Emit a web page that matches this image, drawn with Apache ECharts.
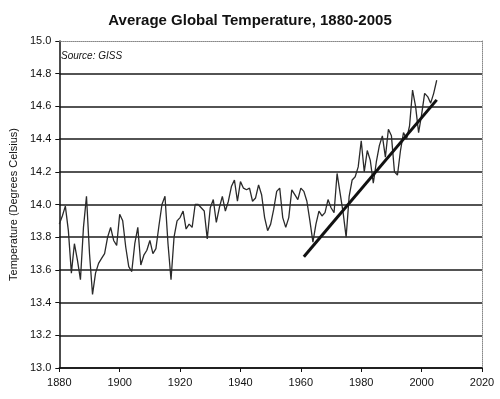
<!DOCTYPE html>
<html>
<head>
<meta charset="utf-8">
<script src="https://cdn.jsdelivr.net/npm/echarts@6/dist/echarts.min.js"></script>
<style>
html,body{margin:0;padding:0;background:#fff;}
#chart{width:500px;height:399px;}
</style>
</head>
<body>
<div id="chart"></div>
<script>
const titleText = 'Average Global Temperature, 1880-2005';
const sourceText = 'Source: GISS';
const yAxisTitle = 'Temperature (Degrees Celsius)';
const startYear = 1880;
const temps = [
  13.88, 13.93, 13.99, 13.84, 13.58, 13.76, 13.66, 13.54, 13.86, 14.05,
  13.70, 13.45, 13.58, 13.64, 13.67, 13.70, 13.80, 13.86, 13.78, 13.75,
  13.94, 13.90, 13.74, 13.62, 13.59, 13.76, 13.86, 13.63, 13.69, 13.72,
  13.78, 13.70, 13.73, 13.87, 14.00, 14.05, 13.76, 13.54, 13.80, 13.90,
  13.92, 13.96, 13.85, 13.88, 13.86, 14.00, 14.00, 13.98, 13.96, 13.79,
  13.98, 14.03, 13.89, 13.98, 14.05, 13.96, 14.02, 14.11, 14.15, 14.02,
  14.14, 14.10, 14.09, 14.10, 14.02, 14.04, 14.12, 14.06, 13.92, 13.84,
  13.88, 13.97, 14.08, 14.10, 13.92, 13.86, 13.92, 14.09, 14.06, 14.03,
  14.10, 14.08, 14.02, 13.90, 13.77, 13.88, 13.96, 13.93, 13.95, 14.03,
  13.98, 13.95, 14.19, 14.07, 13.95, 13.80, 14.05, 14.15, 14.17, 14.23,
  14.39, 14.20, 14.33, 14.27, 14.13, 14.26, 14.36, 14.42, 14.29, 14.46,
  14.42, 14.20, 14.18, 14.33, 14.44, 14.40, 14.48, 14.70, 14.60, 14.44,
  14.55, 14.68, 14.66, 14.62, 14.68, 14.76
];
const trendYears = [1961, 2005];
const trendTemps = [13.68, 14.64];
const xTicks = [1880, 1900, 1920, 1940, 1960, 1980, 2000, 2020];
const yTicks = [13.0, 13.2, 13.4, 13.6, 13.8, 14.0, 14.2, 14.4, 14.6, 14.8, 15.0];

const tempData = temps.map((v, i) => [startYear + i, v]);
const trendData = trendYears.map((y, i) => [y, trendTemps[i]]);

const chart = echarts.init(document.getElementById('chart'), null, {renderer: 'canvas'});
const FONT = '"Liberation Sans", Arial, sans-serif';
const splitColors = yTicks.map((t, i) => i === yTicks.length - 1 ? 'rgba(0,0,0,0)' : '#1a1a1a');

chart.setOption({
  backgroundColor: '#ffffff',
  animation: false,
  title: {
    text: titleText,
    left: 245, top: 8, textAlign: 'center',
    textStyle: {fontFamily: FONT, fontSize: 15, fontWeight: 'bold', color: '#111'}
  },
  graphic: [{
    type: 'text', left: 61, top: 51,
    style: {text: sourceText, font: 'italic 10px ' + FONT, fill: '#111'}
  }],
  grid: {left: 56, right: 18, top: 41, bottom: 31, containLabel: false},
  xAxis: [{
    type: 'value', min: xTicks[0], max: xTicks[xTicks.length - 1], interval: 20,
    axisLine: {show: true, lineStyle: {color: '#111', width: 1.5}},
    axisTick: {show: true, length: 4, lineStyle: {color: '#111'}},
    axisLabel: {color: '#111', fontFamily: FONT, fontSize: 11, margin: 9,
      formatter: v => String(v)},
    splitLine: {show: false}
  }, {
    type: 'value', position: 'top', min: xTicks[0], max: xTicks[xTicks.length - 1],
    axisLine: {show: true, lineStyle: {color: '#888', width: 1, type: 'dotted'}},
    axisTick: {show: false}, axisLabel: {show: false}, splitLine: {show: false}
  }],
  yAxis: [{
    type: 'value', min: 13.0, max: 15.0, interval: 0.2,
    name: yAxisTitle, nameLocation: 'middle', nameGap: 39, nameRotate: 90,
    nameTextStyle: {fontFamily: FONT, fontSize: 11, color: '#111'},
    axisLine: {show: true, lineStyle: {color: '#111', width: 1.5}},
    axisTick: {show: true, length: 4, lineStyle: {color: '#111'}},
    axisLabel: {color: '#111', fontFamily: FONT, fontSize: 11, margin: 8,
      formatter: v => v.toFixed(1)},
    splitLine: {show: true, lineStyle: {color: splitColors, width: 1.5}}
  }, {
    type: 'value', position: 'right', min: 13.0, max: 15.0,
    axisLine: {show: true, lineStyle: {color: '#888', width: 1, type: 'dotted'}},
    axisTick: {show: false}, axisLabel: {show: false}, splitLine: {show: false}
  }],
  series: [{
    type: 'line', name: 'Temperature', data: tempData,
    showSymbol: false, symbol: 'none',
    lineStyle: {color: '#2a2a2a', width: 1.3}
  }, {
    type: 'line', name: 'Trend', data: trendData,
    showSymbol: false, symbol: 'none',
    lineStyle: {color: '#111', width: 3}
  }]
});
</script>
</body>
</html>
